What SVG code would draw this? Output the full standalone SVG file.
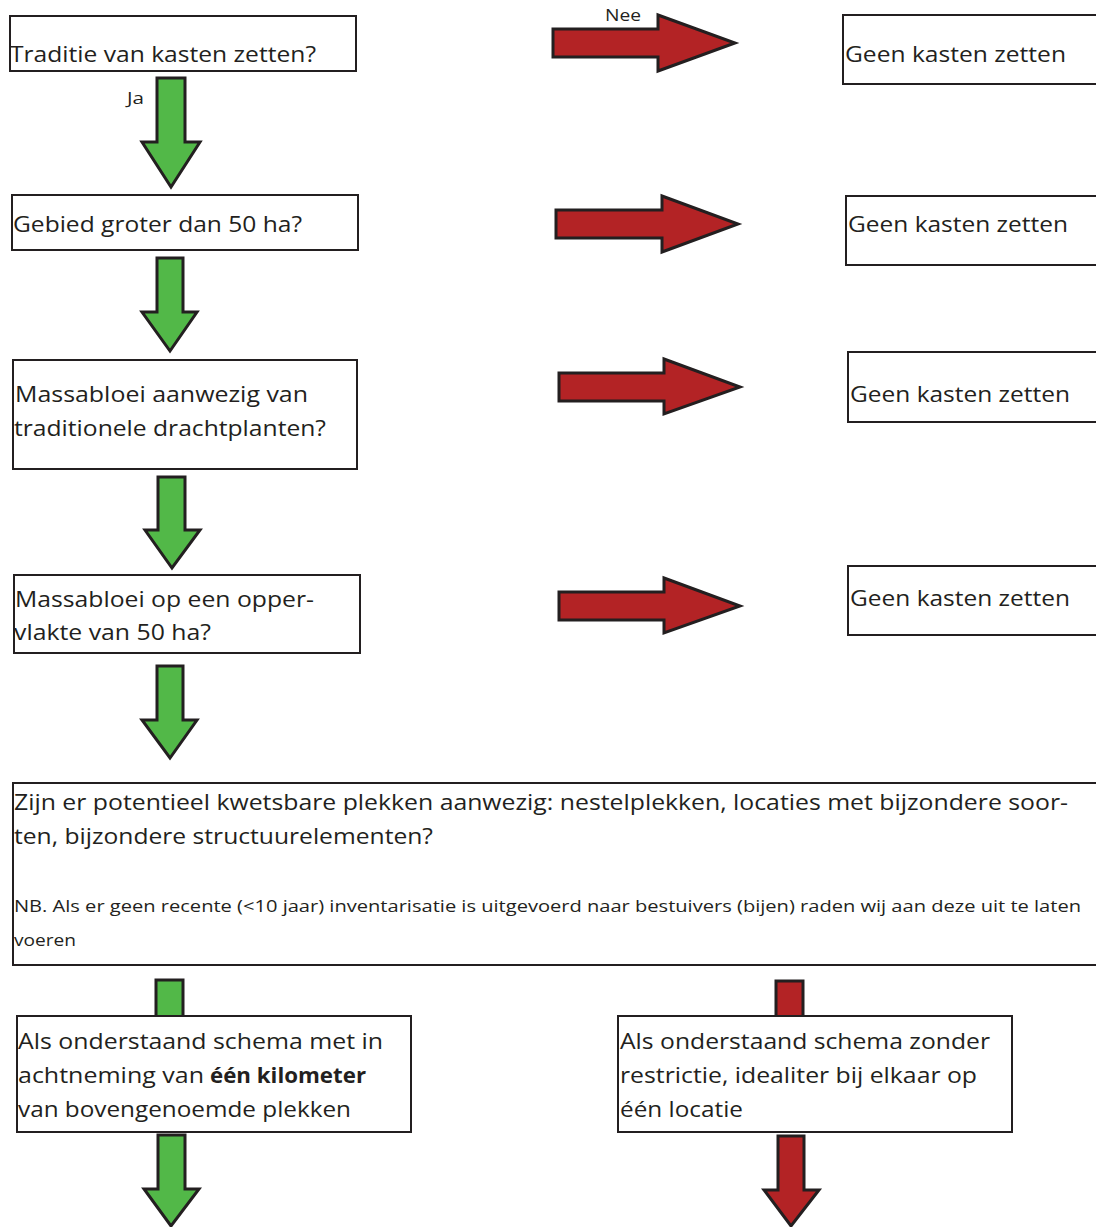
<svg xmlns="http://www.w3.org/2000/svg" width="1096" height="1227" viewBox="0 0 1096 1227">
<style>
.box{fill:#fff;stroke:#231f20;stroke-width:2}
.t{font-family:"Open Sans","Liberation Sans",sans-serif;font-size:22px;fill:#231f20}
.s{font-family:"Open Sans","Liberation Sans",sans-serif;font-size:16px;fill:#231f20}
.b{font-weight:bold}
.g{fill:#52b848;stroke:#231f20;stroke-width:3;stroke-linejoin:miter}
.r{fill:#b32325;stroke:#231f20;stroke-width:3;stroke-linejoin:miter}
</style>
<rect width="1096" height="1227" fill="#fff"/>
<g id="connectors">
<polygon class="g" points="157,78 185,78 185,142 200,142 171,187 142,142 157,142"/>
<polygon class="g" points="157,258 183,258 183,312 197,312 170,351 142,312 157,312"/>
<polygon class="g" points="158,477 185,477 185,530 200,530 172,568 145,530 158,530"/>
<polygon class="g" points="157,666 183,666 183,720 197,720 170,758 142,720 157,720"/>
<polygon class="g" points="156,980 183,980 183,1020 156,1020"/>
<polygon class="g" points="158,1135 185,1135 185,1189 199,1189 171,1226 144,1189 158,1189"/>
<polygon class="r" points="776,981 803,981 803,1020 776,1020"/>
<polygon class="r" points="778,1136 804,1136 804,1190 819,1190 791,1226 764,1190 778,1190"/>
<polygon class="r" points="553,29 658,29 658,15 735,43 658,71 658,57 553,57"/>
<polygon class="r" points="556,210 662,210 662,196 738,224 662,252 662,238 556,238"/>
<polygon class="r" points="559,373 664,373 664,359 740,387 664,414 664,401 559,401"/>
<polygon class="r" points="559,592 664,592 664,578 740,606 664,633 664,620 559,620"/>
<text class="s" x="605" y="21" textLength="36" lengthAdjust="spacingAndGlyphs">Nee</text>
<text class="s" x="127" y="104" textLength="17" lengthAdjust="spacingAndGlyphs">Ja</text>
</g>
<g id="q1">
<rect class="box" x="10" y="16" width="346" height="55"/>
<text class="t" x="10" y="62" textLength="306" lengthAdjust="spacingAndGlyphs">Traditie van kasten zetten?</text>
</g>
<g id="q2">
<rect class="box" x="12" y="195" width="346" height="55"/>
<text class="t" x="13" y="232" textLength="289" lengthAdjust="spacingAndGlyphs">Gebied groter dan 50 ha?</text>
</g>
<g id="q3">
<rect class="box" x="13" y="360" width="344" height="109"/>
<text class="t" x="15" y="402" textLength="293" lengthAdjust="spacingAndGlyphs">Massabloei aanwezig van</text>
<text class="t" x="14" y="436" textLength="312" lengthAdjust="spacingAndGlyphs">traditionele drachtplanten?</text>
</g>
<g id="q4">
<rect class="box" x="14" y="575" width="346" height="78"/>
<text class="t" x="15" y="607" textLength="299" lengthAdjust="spacingAndGlyphs">Massabloei op een opper-</text>
<text class="t" x="14" y="640" textLength="197" lengthAdjust="spacingAndGlyphs">vlakte van 50 ha?</text>
</g>
<g id="n1">
<rect class="box" x="843" y="15" width="260" height="69"/>
<text class="t" x="845" y="62" textLength="221" lengthAdjust="spacingAndGlyphs">Geen kasten zetten</text>
</g>
<g id="n2">
<rect class="box" x="846" y="196" width="260" height="69"/>
<text class="t" x="848" y="232" textLength="220" lengthAdjust="spacingAndGlyphs">Geen kasten zetten</text>
</g>
<g id="n3">
<rect class="box" x="848" y="352" width="260" height="70"/>
<text class="t" x="850" y="402" textLength="220" lengthAdjust="spacingAndGlyphs">Geen kasten zetten</text>
</g>
<g id="n4">
<rect class="box" x="848" y="566" width="260" height="69"/>
<text class="t" x="850" y="606" textLength="220" lengthAdjust="spacingAndGlyphs">Geen kasten zetten</text>
</g>
<g id="q5">
<rect class="box" x="13" y="783" width="1090" height="182"/>
<text class="t" x="14" y="810" textLength="1054" lengthAdjust="spacingAndGlyphs">Zijn er potentieel kwetsbare plekken aanwezig: nestelplekken, locaties met bijzondere soor-</text>
<text class="t" x="14" y="844" textLength="419" lengthAdjust="spacingAndGlyphs">ten, bijzondere structuurelementen?</text>
<text class="s" x="14" y="912" textLength="1067" lengthAdjust="spacingAndGlyphs">NB. Als er geen recente (&lt;10 jaar) inventarisatie is uitgevoerd naar bestuivers (bijen) raden wij aan deze uit te laten</text>
<text class="s" x="14" y="946" textLength="62" lengthAdjust="spacingAndGlyphs">voeren</text>
</g>
<g id="a1">
<rect class="box" x="17" y="1016" width="394" height="116"/>
<text class="t" x="18" y="1049" textLength="365" lengthAdjust="spacingAndGlyphs">Als onderstaand schema met in</text>
<text class="t" x="18" y="1083" textLength="186" lengthAdjust="spacingAndGlyphs">achtneming van</text>
<text class="t b" x="210" y="1083" textLength="156" lengthAdjust="spacingAndGlyphs">één kilometer</text>
<text class="t" x="18" y="1117" textLength="333" lengthAdjust="spacingAndGlyphs">van bovengenoemde plekken</text>
</g>
<g id="a2">
<rect class="box" x="618" y="1016" width="394" height="116"/>
<text class="t" x="620" y="1049" textLength="370" lengthAdjust="spacingAndGlyphs">Als onderstaand schema zonder</text>
<text class="t" x="620" y="1083" textLength="357" lengthAdjust="spacingAndGlyphs">restrictie, idealiter bij elkaar op</text>
<text class="t" x="620" y="1117" textLength="123" lengthAdjust="spacingAndGlyphs">één locatie</text>
</g>
</svg>
